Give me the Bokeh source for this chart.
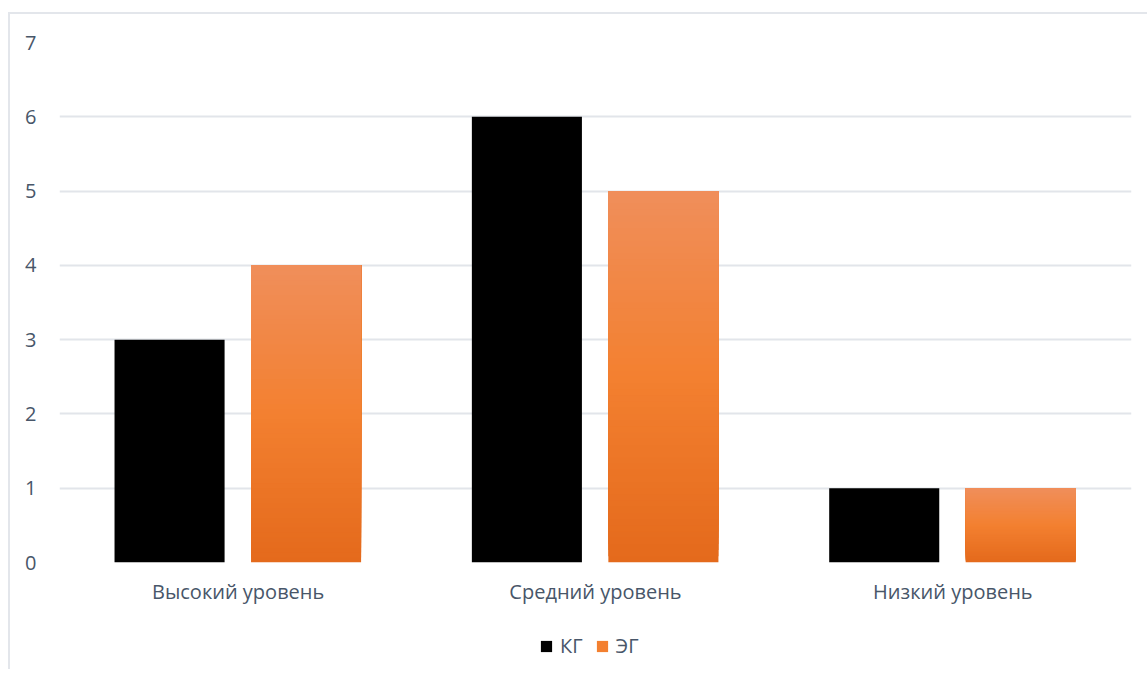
from bokeh.plotting import figure
from bokeh.models import ColumnDataSource, FactorRange, Legend, LegendItem
from bokeh.layouts import column
from bokeh.transform import dodge
from bokeh.embed import file_html
from bokeh.resources import INLINE

categories = ["Высокий уровень", "Средний уровень", "Низкий уровень"]
kg = [3, 6, 1]
eg = [4, 5, 1]
series_names = ["КГ", "ЭГ"]
y_ticks = [0, 1, 2, 3, 4, 5, 6, 7]

TEXT = "#485669"
FONT = "Open Sans"
FS = "20px"
KG_COLOR = "black"
EG_COLOR = "#F38030"

p = figure(x_range=FactorRange(*categories, range_padding=0), y_range=(0, 7),
           width=1137, height=606, output_backend="svg", toolbar_location=None,
           min_border_left=49, min_border_right=16, min_border_top=28, min_border_bottom=58,
           outline_line_color=None)

# black bars
src_kg = ColumnDataSource(dict(cat=categories, v=kg))
p.vbar(x=dodge("cat", -0.192, range=p.x_range), top="v", width=0.308, source=src_kg,
       fill_color=KG_COLOR, line_color=None)

# orange bars with vertical gradient (light top -> darker bottom)
def lerp(a, b, t):
    return tuple(int(round(a[i] + (b[i] - a[i]) * t)) for i in range(3))

bottom_c = (228, 106, 28)
mid_c = (243, 128, 48)
top_c = (240, 142, 90)
N = 60
xs, bots, tops, cols = [], [], [], []
for c, v in zip(categories, eg):
    for i in range(N):
        t = i / (N - 1)
        col = lerp(bottom_c, mid_c, t * 2) if t < 0.5 else lerp(mid_c, top_c, (t - 0.5) * 2)
        xs.append(c)
        bots.append(v * i / N)
        tops.append(v)
        cols.append("#%02x%02x%02x" % col)
src_eg = ColumnDataSource(dict(cat=xs, b=bots, t=tops, c=cols))
p.vbar(x=dodge("cat", 0.19, range=p.x_range), bottom="b", top="t", width=0.308,
       source=src_eg, fill_color="c", line_color=None)

# axes
p.yaxis.ticker = y_ticks
p.yaxis.axis_line_color = None
p.yaxis.major_tick_line_color = None
p.yaxis.minor_tick_line_color = None
p.yaxis.major_tick_out = 0
p.yaxis.major_label_standoff = 23
p.yaxis.major_label_text_font = FONT
p.yaxis.major_label_text_font_size = FS
p.yaxis.major_label_text_color = TEXT

p.xaxis.axis_line_color = None
p.xaxis.major_tick_line_color = None
p.xaxis.major_tick_out = 0
p.xaxis.major_label_standoff = 15
p.xaxis.major_label_text_font = FONT
p.xaxis.major_label_text_font_size = FS
p.xaxis.major_label_text_color = TEXT

p.xgrid.grid_line_color = None
p.ygrid.grid_line_color = "#E2E5EA"
p.ygrid.grid_line_width = 2

# legend strip (zero-height proxy glyphs only feed the legend swatches)
pl = figure(width=1137, height=49, output_backend="svg", toolbar_location=None,
            x_range=(0, 1), y_range=(0, 1), x_axis_type=None, y_axis_type=None,
            min_border=0, outline_line_color=None)
r1 = pl.vbar(x=[0], bottom=[0], top=[0], width=0.0, fill_color=KG_COLOR, line_color=None)
r2 = pl.vbar(x=[0], bottom=[0], top=[0], width=0.0, fill_color=EG_COLOR, line_color=None)
legend = Legend(items=[LegendItem(label=series_names[0], renderers=[r1], index=0),
                       LegendItem(label=series_names[1], renderers=[r2], index=0)],
                orientation="horizontal", location=(480, 10),
                padding=0, margin=0, spacing=12, label_standoff=7,
                glyph_width=14, glyph_height=14, label_height=14,
                border_line_color=None, background_fill_alpha=0,
                label_text_font=FONT, label_text_font_size=FS, label_text_color=TEXT)
pl.add_layout(legend, "center")

layout = column(p, pl, spacing=0)
layout.styles = {"border-left": "2px solid #E3E6EB", "border-top": "2px solid #E3E6EB",
                 "margin-top": "12px", "margin-left": "8px"}

open("out.html", "w").write(file_html(layout, INLINE))
